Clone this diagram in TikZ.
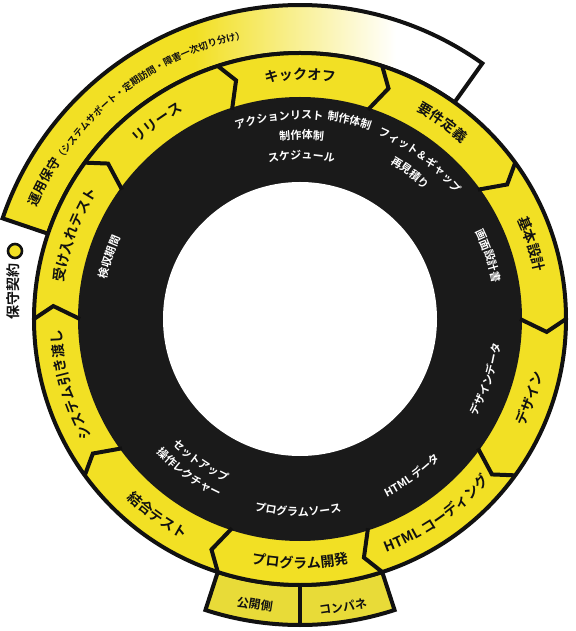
\documentclass[tikz,border=0pt]{standalone}
\usepackage{fontspec}
\setmainfont{Noto Sans CJK JP}[BoldFont={Noto Sans CJK JP Bold}]
\usetikzlibrary{decorations.text}
\definecolor{stageyellow}{HTML}{F2E024}
\definecolor{tabyellow}{HTML}{E8DB38}
\definecolor{discblack}{HTML}{1A1A1A}
\definecolor{edgeblack}{HTML}{111111}
\pgfdeclarehorizontalshading{bandfade}{100bp}{color(0bp)=(stageyellow); color(45bp)=(stageyellow); color(66bp)=(white); color(100bp)=(white)}

\protected\def\stagefont{\bfseries\fontsize{14}{14}\selectfont}
\protected\def\itemfont{\bfseries\fontsize{11}{11}\selectfont}
\protected\def\bandbig{\bfseries\fontsize{13}{13}\selectfont}
\protected\def\bandsmall{\bfseries\fontsize{9.5}{9.5}\selectfont}

% text along a circle, centred on an angle
\newcommand\cwtext[5][white]{%
  \path[decorate, decoration={text along path, text align=center, text color=#1,
      text/.expanded={|#2|#5}}]
    ({#4+50}:#3) arc[start angle={#4+50}, end angle={#4-50}, radius=#3];}
\newcommand\ccwtext[5][white]{%
  \path[decorate, decoration={text along path, text align=center, text color=#1,
      text/.expanded={|#2|#5}}]
    ({#4-50}:#3) arc[start angle={#4-50}, end angle={#4+50}, radius=#3];}

\begin{document}
\begin{tikzpicture}[x=1pt, y=1pt,
    edge/.style={draw=edgeblack, line width=4pt},
    tablabel/.style={font=\bfseries\fontsize{12}{12}\selectfont, text=edgeblack, inner sep=1pt}]
    \useasboundingbox (-300,-312) rectangle (275,319);

    % Maintenance band
    \shadedraw[shading=bandfade, edge] (161.3:266) arc[start angle=161.3, end angle=54.5, radius=266]
        -- (54.5:314) arc[start angle=54.5, end angle=161.3, radius=314] -- cycle;
    \cwtext[edgeblack]{\bandbig}{286}{129}{運用保守|\bandsmall|（システムサポート・定期訪問・障害一次切り分け）}

    % Tabs under the development stage
    \filldraw[fill=tabyellow, edge] (-108:266) arc[start angle=-108, end angle=-72, radius=266]
        -- (-72:306) arc[start angle=-72, end angle=-108, radius=306] -- cycle;
    \draw[edge] (-90:266) -- (-90:306);
    \node[tablabel, rotate=-9] (pub) at (-99:289) {公開側};
    \node[tablabel, rotate=8.5] (cpn) at (-81.5:291) {コンパネ};

    % Stage ring and dark disc
    \filldraw[fill=stageyellow, edge] (0,0) circle (266);
    \fill[discblack] (0,0) circle (222);
    \fill[white] (0,0) circle (137);
    \foreach \b in {108,72,...,-216}
        \draw[edge] ({\b}:220) -- ({\b-3}:247) -- ({\b}:266);

    % Stages
    \foreach \a/\lbl in {90/キックオフ, 54/要件定義, 18/基本設計, 126/リリース,
        159.5/受け入れテスト, 196/システム引き渡し}
        \cwtext[edgeblack]{\stagefont}{239}{\a}{\lbl};
    \foreach \a/\lbl in {-19/デザイン, -55/HTML コーディング, -90/プログラム開発, -126/結合テスト}
        \ccwtext[edgeblack]{\stagefont}{249}{\a}{\lbl};

    % Deliverables
    \foreach \r/\a/\txt in {200/96/アクションリスト, 201/76/制作体制, 200/53/フィット＆ギャップ,
        180/89.5/制作体制, 160/89.5/スケジュール, 180/53/再見積り,
        196/18.6/画面設計書, 197/162/検収期間}
        \cwtext{\itemfont}{\r}{\a}{\txt};
    \foreach \r/\a/\txt in {202/-18/デザインデータ, 198/-54.4/HTML データ, 197/-90.6/プログラムソース,
        179/-125/セットアップ, 196/-125.8/操作レクチャー}
        \ccwtext{\itemfont}{\r}{\a}{\txt};

    % Contract marker
    \node[circle, draw=edgeblack, line width=2.6pt, fill=stageyellow, minimum size=14pt, inner sep=0pt] (mark) at (-285,68) {};
    \node[font=\bfseries\fontsize{14}{14}\selectfont, text=edgeblack, rotate=90] (contract) at (-287,27) {保守契約};
\end{tikzpicture}
\end{document}
